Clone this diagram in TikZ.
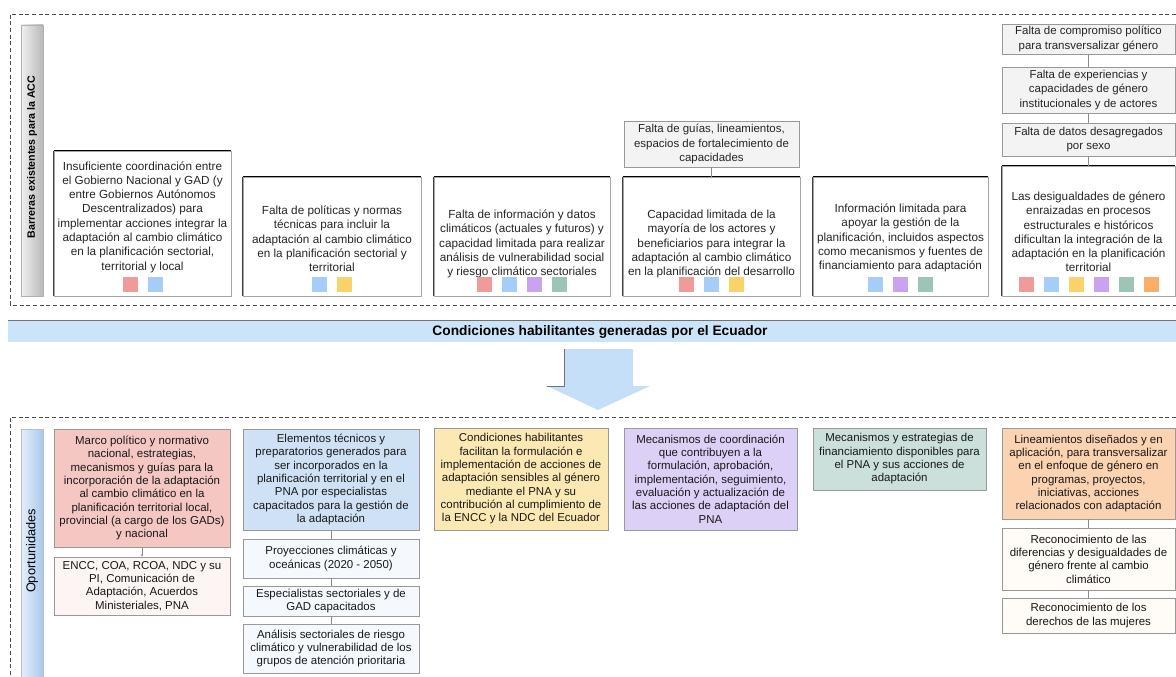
\documentclass[tikz,border=0pt]{standalone}
\usepackage{fontspec}
\setmainfont{Liberation Sans}
\usetikzlibrary{arrows.meta}
\definecolor{cR}{HTML}{F09A9A}
\definecolor{cB}{HTML}{A6CDF7}
\definecolor{cY}{HTML}{F9D36A}
\definecolor{cP}{HTML}{C9A2F2}
\definecolor{cG}{HTML}{9CC5B5}
\definecolor{cO}{HTML}{F9AE6B}
\definecolor{fR}{HTML}{F4C7C3}
\definecolor{fB}{HTML}{CFE2F5}
\definecolor{fY}{HTML}{FCE8B2}
\definecolor{fP}{HTML}{DDD0F6}
\definecolor{fG}{HTML}{CBE0DA}
\definecolor{fO}{HTML}{FBD3B0}
\definecolor{sR}{HTML}{FDF4F4}
\definecolor{sB}{HTML}{F5F9FD}
\definecolor{sO}{HTML}{FFFBF6}
\definecolor{grayfill}{HTML}{F3F3F3}
\definecolor{bannerblue}{HTML}{CCE4FA}
\definecolor{arrowblue}{HTML}{C6DFF8}
\definecolor{opL}{HTML}{E4EEFB}
\definecolor{opR}{HTML}{A9C9EE}
% \bx{name}{style}{x1}{y1}{x2}{y2}{text}
\newcommand\bx[7]{\node[#2, anchor=center, inner sep=0pt,
  minimum width={(#5-#3)*0.75pt}, minimum height={(#6-#4)*0.75pt}]
  (#1) at ({(#3+#5)/2},{(#4+#6)/2}) {#7};}
\begin{document}
\begin{tikzpicture}[x=0.75pt,y=-0.75pt,
  dashbox/.style={draw=black!70, line width=0.6pt, dash pattern=on 3pt off 2pt},
  barrier/.style={draw=black!35, fill=white, line width=0.5pt},
  btxt/.style={align=center, font=\fontsize{8.8}{10.7}\selectfont, text=black!85, inner sep=0pt},
  gbox/.style={draw=black!40, fill=grayfill, line width=0.5pt, align=center, font=\fontsize{8.6}{10.6}\selectfont, text=black!85},
  obox/.style={draw=black!40, line width=0.5pt, align=center, font=\fontsize{8.6}{10}\selectfont, text=black!90},
  sq/.style={minimum size=11.25pt, inner sep=0pt},
  conn/.style={draw=black!45, line width=0.4pt},
  topedge/.style={line width=1.1pt, black},
  leftedge/.style={line width=0.5pt, black!75}
]
\useasboundingbox (0,0) rectangle (1176,677);

% ---------- top dashed frame ----------
\draw[dashbox] (1176,14) -- (10,14) -- (10,305) -- (1176,305);
\bx{barbar}{left color=gray!12, right color=gray!55, draw=gray!60, line width=0.4pt}{21}{25}{43}{296}{}
\node[rotate=90, font=\bfseries\fontsize{8}{9.6}\selectfont] (barlbl) at (32,157) {Barreras existentes para la ACC};

% ---------- barrier boxes ----------
\bx{b1}{barrier}{54}{151}{231}{296}{}
\bx{b2}{barrier}{243}{177}{421}{296}{}
\bx{b3}{barrier}{434}{177}{610}{296}{}
\bx{b4}{barrier}{623}{177}{800}{296}{}
\bx{b5}{barrier}{813}{177}{988}{296}{}
\bx{b6}{barrier}{1002}{166}{1175}{296}{}
\foreach \b in {b1,b2,b3,b4,b5,b6}{
  \draw[topedge] (\b.north west) -- (\b.north east);
  \draw[leftedge] (\b.north west) -- (\b.south west);
}

\node[btxt] (b1t) at (142.5,217) {Insuficiente coordinación entre\\el Gobierno Nacional y GAD (y\\entre Gobiernos Autónomos\\Descentralizados) para\\implementar acciones integrar la\\adaptación al cambio climático\\en la planificación sectorial,\\territorial y local};
\node[btxt] (b2t) at (332,239) {Falta de políticas y normas\\técnicas para incluir la\\adaptación al cambio climático\\en la planificación sectorial y\\territorial};
\node[btxt] (b3t) at (522,244) {Falta de información y datos\\climáticos (actuales y futuros) y\\capacidad limitada para realizar\\análisis de vulnerabilidad social\\y riesgo climático sectoriales};
\node[btxt] (b4t) at (711.5,244) {Capacidad limitada de la\\mayoría de los actores y\\beneficiarios para integrar la\\adaptación al cambio climático\\en la planificación del desarrollo};
\node[btxt] (b5t) at (900.5,238) {Información limitada para\\apoyar la gestión de la\\planificación, incluidos aspectos\\como mecanismos y fuentes de\\financiamiento para adaptación};
\node[btxt] (b6t) at (1088.5,232) {Las desigualdades de género\\enraizadas en procesos\\estructurales e históricos\\dificultan la integración de la\\adaptación en la planificación\\territorial};

% squares
\node[sq, fill=cR] (b1s1) at (130,284.5) {};
\node[sq, fill=cB] (b1s2) at (155,284.5) {};
\node[sq, fill=cB] (b2s1) at (319.5,284.5) {};
\node[sq, fill=cY] (b2s2) at (344.5,284.5) {};
\node[sq, fill=cR] (b3s1) at (484.5,284.5) {};
\node[sq, fill=cB] (b3s2) at (509.5,284.5) {};
\node[sq, fill=cP] (b3s3) at (534.5,284.5) {};
\node[sq, fill=cG] (b3s4) at (559.5,284.5) {};
\node[sq, fill=cR] (b4s1) at (686.5,284.5) {};
\node[sq, fill=cB] (b4s2) at (711.5,284.5) {};
\node[sq, fill=cY] (b4s3) at (736.5,284.5) {};
\node[sq, fill=cB] (b5s1) at (875.5,284.5) {};
\node[sq, fill=cP] (b5s2) at (900.5,284.5) {};
\node[sq, fill=cG] (b5s3) at (925.5,284.5) {};
\node[sq, fill=cR] (b6s1) at (1026,284.5) {};
\node[sq, fill=cB] (b6s2) at (1051,284.5) {};
\node[sq, fill=cY] (b6s3) at (1076,284.5) {};
\node[sq, fill=cP] (b6s4) at (1101,284.5) {};
\node[sq, fill=cG] (b6s5) at (1126,284.5) {};
\node[sq, fill=cO] (b6s6) at (1151,284.5) {};

% gray upper boxes
\bx{fgl}{gbox}{624}{121}{799}{167}{Falta de guías, lineamientos,\\espacios de fortalecimiento de\\capacidades}
\bx{s1}{gbox}{1002}{24}{1175}{54}{Falta de compromiso político\\para transversalizar género}
\bx{s2}{gbox}{1002}{67}{1175}{113}{Falta de experiencias y\\capacidades de género\\institucionales y de actores}
\bx{s3}{gbox}{1002}{123}{1175}{156}{Falta de datos desagregados\\por sexo}
\draw[conn] (fgl.south) -- (b4.north);
\draw[conn] (s1.south) -- (s2.north);
\draw[conn] (s2.south) -- (s3.north);
\draw[conn] (s3.south) -- (b6.north);

% ---------- banner ----------
\bx{banner}{fill=bannerblue}{8}{321}{1176}{342}{}
\draw[black!55, line width=1.1pt] (banner.north west) -- (banner.north east);
\node[font=\bfseries\fontsize{10.3}{12}\selectfont] (bannertxt) at (600,332) {Condiciones habilitantes generadas por el Ecuador};

% big arrow
\fill[arrowblue] (564,349) -- (633,349) -- (633,386) -- (650,386) -- (598,410) -- (547,386) -- (564,386) -- cycle;
\draw[black!55, line width=0.5pt] (547,386) -- (564,386) -- (564,349);

% ---------- bottom dashed frame ----------
\draw[dashbox] (1176,417) -- (10,417) -- (10,677);
\bx{opbar}{left color=opL, right color=opR, draw=gray!50, line width=0.4pt}{21}{429}{43}{677}{}
\node[rotate=90, font=\fontsize{9.6}{11}\selectfont] (oplbl) at (32,551) {Oportunidades};

\bx{r1}{obox, fill=fR}{54}{429}{230}{547}{Marco político y normativo\\nacional, estrategias,\\mecanismos y guías para la\\incorporación de la adaptación\\al cambio climático en la\\planificación territorial local,\\provincial (a cargo de los GADs)\\y nacional}
\bx{r2}{obox, fill=sR}{54}{557}{230}{615}{ENCC, COA, RCOA, NDC y su\\PI, Comunicación de\\Adaptación, Acuerdos\\Ministeriales, PNA}
\draw[conn, -{Stealth[length=2pt,width=2pt]}] (r1.south) -- (r2.north);

\bx{l1}{obox, fill=fB}{243}{429}{419}{530}{Elementos técnicos y\\preparatorios generados para\\ser incorporados en la\\planificación territorial y en el\\PNA por especialistas\\capacitados para la gestión de\\la adaptación}
\bx{l2}{obox, fill=sB}{243}{539}{419}{578}{Proyecciones climáticas y\\oceánicas (2020 - 2050)}
\bx{l3}{obox, fill=sB}{243}{586}{419}{616}{Especialistas sectoriales y de\\GAD capacitados}
\bx{l4}{obox, fill=sB}{243}{624}{419}{673}{Análisis sectoriales de riesgo\\climático y vulnerabilidad de los\\grupos de atención prioritaria}
\draw[conn] (l1.south) -- (l2.north);
\draw[conn] (l2.south) -- (l3.north);
\draw[conn] (l3.south) -- (l4.north);

\bx{y1}{obox, fill=fY}{434}{428}{608}{530}{Condiciones habilitantes\\facilitan la formulación e\\implementación de acciones de\\adaptación sensibles al género\\mediante el PNA y su\\contribución al cumplimiento de\\la ENCC y la NDC del Ecuador}
\bx{p1}{obox, fill=fP}{624}{428}{797}{530}{Mecanismos de coordinación\\que contribuyen a la\\formulación, aprobación,\\implementación, seguimiento,\\evaluación y actualización de\\las acciones de adaptación del\\PNA}
\bx{g1}{obox, fill=fG}{813}{428}{986}{490}{Mecanismos y estrategias de\\financiamiento disponibles para\\el PNA y sus acciones de\\adaptación}
\bx{o1}{obox, fill=fO}{1002}{428}{1175}{519}{Lineamientos diseñados y en\\aplicación, para transversalizar\\en el enfoque de género en\\programas, proyectos,\\iniciativas, acciones\\relacionados con adaptación}
\bx{o2}{obox, fill=sO}{1002}{528}{1175}{590}{Reconocimiento de las\\diferencias y desigualdades de\\género frente al cambio\\climático}
\bx{o3}{obox, fill=sO}{1002}{598}{1175}{633}{Reconocimiento de los\\derechos de las mujeres}
\draw[conn] (o1.south) -- (o2.north);
\draw[conn] (o2.south) -- (o3.north);
\end{tikzpicture}
\end{document}
